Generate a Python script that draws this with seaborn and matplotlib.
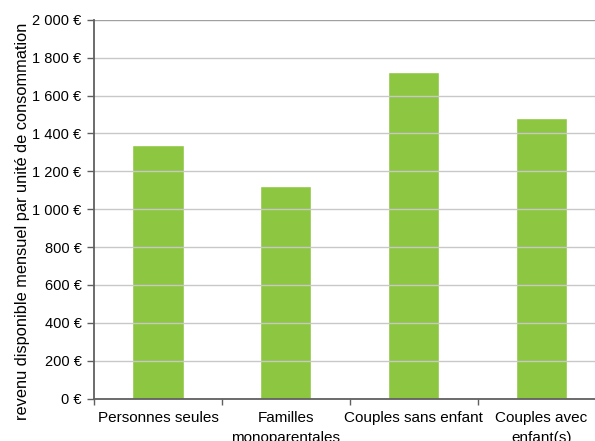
import matplotlib
matplotlib.use("Agg")
import matplotlib.pyplot as plt
import seaborn as sns
import pandas as pd
import numpy as np

categories = ["Personnes seules", "Familles\nmonoparentales", "Couples sans enfant", "Couples avec\nenfant(s)"]
values = [1339, 1124, 1725, 1482]
ytick_values = [0, 200, 400, 600, 800, 1000, 1200, 1400, 1600, 1800, 2000]
ytick_labels = ["0 €", "200 €", "400 €", "600 €", "800 €", "1 000 €", "1 200 €", "1 400 €", "1 600 €", "1 800 €", "2 000 €"]
ylabel = "revenu disponible mensuel par unité de consommation"

sns.set_theme(style="white")
plt.rcParams["font.family"] = ["Liberation Sans", "DejaVu Sans"]

df = pd.DataFrame({"cat": categories, "val": values})

fig = plt.figure(figsize=(5.95, 4.41), dpi=100)
W, H = 595, 441
left, right, top, bottom = 94, 605.5, 19.7, 398.7
ax = fig.add_axes([left / W, 1 - bottom / H, (right - left) / W, (bottom - top) / H])

sns.barplot(data=df, x="cat", y="val", color="#8DC641", saturation=1, width=0.4, ax=ax, zorder=1)

ax.set_ylim(0, 2000)
ax.set_xlim(-0.5, len(categories) - 0.5)

ax.set_yticks(ytick_values)
ax.set_yticklabels(ytick_labels, fontsize=10.5, color="#000000")
ax.yaxis.grid(True, color="#c8c8c8", linewidth=1.0, zorder=2)
ax.set_axisbelow(False)
for gl in ax.get_ygridlines():
    gl.set_zorder(2)
ax.get_ygridlines()[-1].set_color("#a0a0a0")

# x ticks: marks at category boundaries, labels centered
ax.set_xticks(np.arange(len(categories) + 1) - 0.5)
ax.set_xticklabels([])
ax.set_xticks(np.arange(len(categories)), minor=True)
ax.set_xticklabels(categories, minor=True, fontsize=11, color="#000000", linespacing=1.5)
ax.tick_params(axis="x", which="major", direction="out", length=4.5, width=1, color="#606060", bottom=True)
ax.tick_params(axis="x", which="minor", length=0, pad=9)
ax.tick_params(axis="y", direction="out", length=5, width=1, color="#606060", pad=4, left=True)

ax.set_xlabel("")
ax.set_ylabel("")
for s in ["top", "right"]:
    ax.spines[s].set_visible(False)
for s in ["left", "bottom"]:
    ax.spines[s].set_color("#606060")
    ax.spines[s].set_linewidth(1.3)
    ax.spines[s].set_zorder(3)

fig.text(22.7 / W, 1 - 221.5 / H, ylabel, rotation=90, ha="center", va="center", fontsize=11.8, color="#000000")

fig.savefig("out.png", dpi=100)
